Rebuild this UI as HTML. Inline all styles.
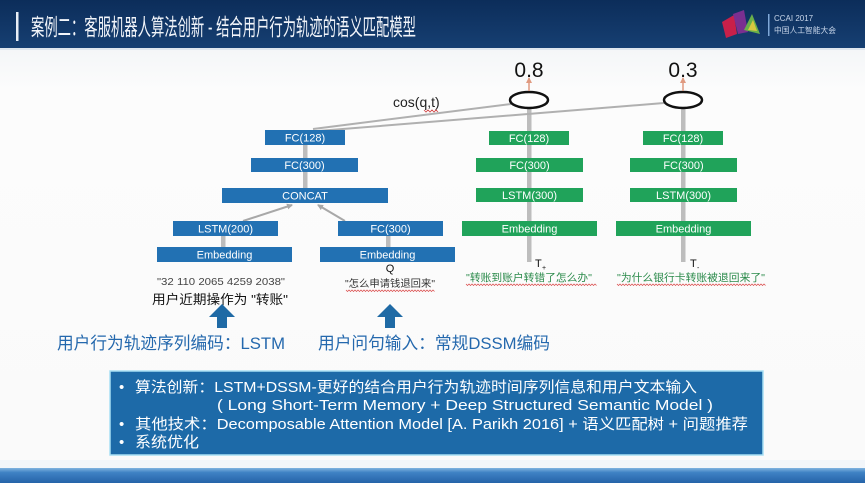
<!DOCTYPE html>
<html>
<head>
<meta charset="utf-8">
<style>
html,body{margin:0;padding:0;width:865px;height:483px;overflow:hidden;background:#fafafa;}
svg{display:block;}
text{font-family:"Liberation Sans","Noto Sans CJK SC",sans-serif;}
</style>
</head>
<body>
<svg width="865" height="483" viewBox="0 0 865 483" xmlns="http://www.w3.org/2000/svg">
  <defs>
    <linearGradient id="hdr" x1="0" y1="0" x2="0" y2="1">
      <stop offset="0" stop-color="#0c2d5a"/>
      <stop offset="1" stop-color="#163f72"/>
    </linearGradient>
    <linearGradient id="ftr" x1="0" y1="0" x2="0" y2="1">
      <stop offset="0" stop-color="#7fb3e0"/>
      <stop offset="0.3" stop-color="#3f82c4"/>
      <stop offset="1" stop-color="#2563a8"/>
    </linearGradient>
    <linearGradient id="bg" x1="0" y1="0" x2="0" y2="1">
      <stop offset="0" stop-color="#f4f6f8"/>
      <stop offset="0.1" stop-color="#fcfcfc"/>
      <stop offset="1" stop-color="#fafafa"/>
    </linearGradient>
    <marker id="ah" markerWidth="6" markerHeight="6" refX="5" refY="3" orient="auto" markerUnits="userSpaceOnUse">
      <path d="M0,0 L6,3 L0,6 z" fill="#a8a8a8"/>
    </marker>
    <marker id="oh" markerWidth="6" markerHeight="6" refX="5" refY="3" orient="auto" markerUnits="userSpaceOnUse">
      <path d="M0,0 L6,3 L0,6 z" fill="#e09a80"/>
    </marker>
  </defs>

  <!-- background -->
  <rect x="0" y="48" width="865" height="422" fill="url(#bg)"/>

  <!-- header -->
  <rect x="0" y="0" width="865" height="48" fill="url(#hdr)"/>
  <rect x="0" y="48" width="865" height="2" fill="#dfe6ee"/>
  <rect x="16" y="12" width="2.5" height="29" fill="#e8eef6"/>
  <text x="31" y="35" font-size="23" fill="#f2f5fa" textLength="385" lengthAdjust="spacingAndGlyphs">案例二：客服机器人算法创新 - 结合用户行为轨迹的语义匹配模型</text>

  <!-- logo -->
  <polygon points="722,22 734,15 737,34 726,38" fill="#c8204a"/>
  <polygon points="733,14 744,10 748,32 738,34" fill="#7a2f90"/>
  <polygon points="744,30 752,14 760,34" fill="#6ab04a"/>
  <polygon points="748,30 753,20 757,31" fill="#d8c840"/>
  <rect x="768" y="14" width="1.5" height="22" fill="#7fa8d8"/>
  <text x="774" y="21" font-size="8" fill="#c8d6ea">CCAI 2017</text>
  <text x="774" y="33" font-size="8" fill="#c8d6ea" textLength="62" lengthAdjust="spacingAndGlyphs">中国人工智能大会</text>

  <!-- gray vertical connectors -->
  <rect x="527" y="108" width="4.5" height="154" fill="#bdbdbd"/>
  <rect x="681" y="108" width="4.5" height="154" fill="#bdbdbd"/>
  <rect x="303" y="145" width="4.5" height="43" fill="#bdbdbd"/>
  <rect x="221" y="236" width="4.5" height="11" fill="#bdbdbd"/>
  <rect x="386" y="236" width="4.5" height="11" fill="#bdbdbd"/>

  <!-- lines from FC(128) to ellipses -->
  <line x1="313" y1="129" x2="511" y2="104" stroke="#b0b0b0" stroke-width="2"/>
  <line x1="318" y1="131" x2="664" y2="103" stroke="#b0b0b0" stroke-width="2"/>

  <!-- diagonals into CONCAT -->
  <line x1="243" y1="221" x2="292" y2="205" stroke="#a8a8a8" stroke-width="2" marker-end="url(#ah)"/>
  <line x1="345" y1="221" x2="318" y2="205" stroke="#a8a8a8" stroke-width="2" marker-end="url(#ah)"/>

  <!-- left (blue) tower -->
  <g fill="#2271b3">
    <rect x="265" y="130" width="80" height="15"/>
    <rect x="251" y="158" width="107" height="14"/>
    <rect x="222" y="188" width="166" height="15"/>
    <rect x="173" y="221" width="105" height="15"/>
    <rect x="157" y="247" width="135" height="15"/>
    <rect x="338" y="221" width="105" height="15"/>
    <rect x="320" y="247" width="135" height="15"/>
  </g>
  <g fill="#ffffff" font-size="11" text-anchor="middle">
    <text x="305" y="141.5">FC(128)</text>
    <text x="304.5" y="169">FC(300)</text>
    <text x="305" y="199.5">CONCAT</text>
    <text x="225.5" y="232.5">LSTM(200)</text>
    <text x="224.5" y="258.5">Embedding</text>
    <text x="390.5" y="232.5">FC(300)</text>
    <text x="387.5" y="258.5">Embedding</text>
  </g>

  <!-- green towers -->
  <g fill="#20a35a">
    <rect x="489" y="131" width="80" height="14"/>
    <rect x="476" y="158" width="107" height="14"/>
    <rect x="476" y="188" width="107" height="14"/>
    <rect x="462" y="221" width="135" height="15"/>
    <rect x="643" y="131" width="80" height="14"/>
    <rect x="630" y="158" width="107" height="14"/>
    <rect x="630" y="188" width="107" height="14"/>
    <rect x="616" y="221" width="135" height="15"/>
  </g>
  <g fill="#ffffff" font-size="11" text-anchor="middle">
    <text x="529" y="142">FC(128)</text>
    <text x="529.5" y="169">FC(300)</text>
    <text x="529.5" y="199">LSTM(300)</text>
    <text x="529.5" y="232.5">Embedding</text>
    <text x="683" y="142">FC(128)</text>
    <text x="683.5" y="169">FC(300)</text>
    <text x="683.5" y="199">LSTM(300)</text>
    <text x="683.5" y="232.5">Embedding</text>
  </g>

  <!-- ellipses -->
  <ellipse cx="529" cy="100" rx="19" ry="8" fill="#ffffff" stroke="#111" stroke-width="2.5"/>
  <ellipse cx="683" cy="100" rx="19" ry="8" fill="#ffffff" stroke="#111" stroke-width="2.5"/>
  <line x1="529" y1="91" x2="529" y2="78" stroke="#e09a80" stroke-width="1.5" marker-end="url(#oh)"/>
  <line x1="683" y1="91" x2="683" y2="78" stroke="#e09a80" stroke-width="1.5" marker-end="url(#oh)"/>
  <text x="529" y="77" font-size="21" text-anchor="middle" fill="#111">0.8</text>
  <text x="683" y="77" font-size="21" text-anchor="middle" fill="#111">0.3</text>

  <!-- cos(q,t) -->
  <text x="393" y="107" font-size="14" fill="#222">cos(q,t)</text>
  <path d="M424,110 l2,2 l2,-2 l2,2 l2,-2 l2,2 l2,-2 l2,2" fill="none" stroke="#d04040" stroke-width="0.8"/>

  <!-- labels under towers -->
  <text x="390" y="272" font-size="11" text-anchor="middle" fill="#111">Q</text>
  <text x="535" y="267" font-size="11" fill="#111">T</text>
  <text x="542" y="270" font-size="7" fill="#111">+</text>
  <text x="690" y="267" font-size="11" fill="#111">T</text>
  <text x="697" y="270" font-size="7" fill="#111">-</text>

  <text x="221" y="285" font-size="10.5" text-anchor="middle" fill="#444" textLength="128" lengthAdjust="spacingAndGlyphs">"32 110 2065 4259 2038"</text>
  <text x="220" y="304" font-size="13" text-anchor="middle" fill="#111" textLength="136" lengthAdjust="spacingAndGlyphs">用户近期操作为 "转账"</text>

  <text x="390" y="287" font-size="10" text-anchor="middle" fill="#333" textLength="90" lengthAdjust="spacingAndGlyphs">"怎么申请钱退回来"</text>
  <path d="M346,290 l1.5,1.5 l1.5,-1.5 l1.5,1.5 l1.5,-1.5 l1.5,1.5 l1.5,-1.5 l1.5,1.5 l1.5,-1.5 l1.5,1.5 l1.5,-1.5 l1.5,1.5 l1.5,-1.5 l1.5,1.5 l1.5,-1.5 l1.5,1.5 l1.5,-1.5 l1.5,1.5 l1.5,-1.5 l1.5,1.5 l1.5,-1.5 l1.5,1.5 l1.5,-1.5 l1.5,1.5 l1.5,-1.5 l1.5,1.5 l1.5,-1.5 l1.5,1.5 l1.5,-1.5 l1.5,1.5 l1.5,-1.5 l1.5,1.5 l1.5,-1.5 l1.5,1.5 l1.5,-1.5 l1.5,1.5 l1.5,-1.5 l1.5,1.5 l1.5,-1.5 l1.5,1.5 l1.5,-1.5 l1.5,1.5 l1.5,-1.5 l1.5,1.5 l1.5,-1.5 l1.5,1.5 l1.5,-1.5 l1.5,1.5 l1.5,-1.5 l1.5,1.5 l1.5,-1.5 l1.5,1.5 l1.5,-1.5 l1.5,1.5 l1.5,-1.5 l1.5,1.5 l1.5,-1.5 l1.5,1.5 l1.5,-1.5 l1.5,1.5" fill="none" stroke="#d84040" stroke-width="0.7"/>

  <text x="529" y="281" font-size="10.5" text-anchor="middle" fill="#2a8a4a" textLength="126" lengthAdjust="spacingAndGlyphs">"转账到账户转错了怎么办"</text>
  <path d="M466,284 l1.5,1.5 l1.5,-1.5 l1.5,1.5 l1.5,-1.5 l1.5,1.5 l1.5,-1.5 l1.5,1.5 l1.5,-1.5 l1.5,1.5 l1.5,-1.5 l1.5,1.5 l1.5,-1.5 l1.5,1.5 l1.5,-1.5 l1.5,1.5 l1.5,-1.5 l1.5,1.5 l1.5,-1.5 l1.5,1.5 l1.5,-1.5 l1.5,1.5 l1.5,-1.5 l1.5,1.5 l1.5,-1.5 l1.5,1.5 l1.5,-1.5 l1.5,1.5 l1.5,-1.5 l1.5,1.5 l1.5,-1.5 l1.5,1.5 l1.5,-1.5 l1.5,1.5 l1.5,-1.5 l1.5,1.5 l1.5,-1.5 l1.5,1.5 l1.5,-1.5 l1.5,1.5 l1.5,-1.5 l1.5,1.5 l1.5,-1.5 l1.5,1.5 l1.5,-1.5 l1.5,1.5 l1.5,-1.5 l1.5,1.5 l1.5,-1.5 l1.5,1.5 l1.5,-1.5 l1.5,1.5 l1.5,-1.5 l1.5,1.5 l1.5,-1.5 l1.5,1.5 l1.5,-1.5 l1.5,1.5 l1.5,-1.5 l1.5,1.5 l1.5,-1.5 l1.5,1.5 l1.5,-1.5 l1.5,1.5 l1.5,-1.5 l1.5,1.5 l1.5,-1.5 l1.5,1.5 l1.5,-1.5 l1.5,1.5 l1.5,-1.5 l1.5,1.5 l1.5,-1.5 l1.5,1.5 l1.5,-1.5 l1.5,1.5 l1.5,-1.5 l1.5,1.5 l1.5,-1.5 l1.5,1.5 l1.5,-1.5 l1.5,1.5 l1.5,-1.5 l1.5,1.5 l1.5,-1.5 l1.5,1.5 l1.5,-1.5 l1.5,1.5" fill="none" stroke="#d84040" stroke-width="0.7"/>

  <text x="691" y="281" font-size="10.5" text-anchor="middle" fill="#2a8a4a" textLength="148" lengthAdjust="spacingAndGlyphs">"为什么银行卡转账被退回来了"</text>
  <path d="M617,284 l1.5,1.5 l1.5,-1.5 l1.5,1.5 l1.5,-1.5 l1.5,1.5 l1.5,-1.5 l1.5,1.5 l1.5,-1.5 l1.5,1.5 l1.5,-1.5 l1.5,1.5 l1.5,-1.5 l1.5,1.5 l1.5,-1.5 l1.5,1.5 l1.5,-1.5 l1.5,1.5 l1.5,-1.5 l1.5,1.5 l1.5,-1.5 l1.5,1.5 l1.5,-1.5 l1.5,1.5 l1.5,-1.5 l1.5,1.5 l1.5,-1.5 l1.5,1.5 l1.5,-1.5 l1.5,1.5 l1.5,-1.5 l1.5,1.5 l1.5,-1.5 l1.5,1.5 l1.5,-1.5 l1.5,1.5 l1.5,-1.5 l1.5,1.5 l1.5,-1.5 l1.5,1.5 l1.5,-1.5 l1.5,1.5 l1.5,-1.5 l1.5,1.5 l1.5,-1.5 l1.5,1.5 l1.5,-1.5 l1.5,1.5 l1.5,-1.5 l1.5,1.5 l1.5,-1.5 l1.5,1.5 l1.5,-1.5 l1.5,1.5 l1.5,-1.5 l1.5,1.5 l1.5,-1.5 l1.5,1.5 l1.5,-1.5 l1.5,1.5 l1.5,-1.5 l1.5,1.5 l1.5,-1.5 l1.5,1.5 l1.5,-1.5 l1.5,1.5 l1.5,-1.5 l1.5,1.5 l1.5,-1.5 l1.5,1.5 l1.5,-1.5 l1.5,1.5 l1.5,-1.5 l1.5,1.5 l1.5,-1.5 l1.5,1.5 l1.5,-1.5 l1.5,1.5 l1.5,-1.5 l1.5,1.5 l1.5,-1.5 l1.5,1.5 l1.5,-1.5 l1.5,1.5 l1.5,-1.5 l1.5,1.5 l1.5,-1.5 l1.5,1.5 l1.5,-1.5 l1.5,1.5 l1.5,-1.5 l1.5,1.5 l1.5,-1.5 l1.5,1.5 l1.5,-1.5 l1.5,1.5 l1.5,-1.5 l1.5,1.5 l1.5,-1.5 l1.5,1.5" fill="none" stroke="#d84040" stroke-width="0.7"/>

  <!-- blue up arrows -->
  <g fill="#1f6aa5">
    <polygon points="209,317 222,304 235,317"/>
    <rect x="217" y="316" width="10" height="12"/>
    <polygon points="377,317 390,304 403,317"/>
    <rect x="385" y="316" width="10" height="12"/>
  </g>

  <!-- bottom labels -->
  <text x="57" y="349" font-size="17" fill="#2468ad" textLength="228" lengthAdjust="spacingAndGlyphs">用户行为轨迹序列编码：LSTM</text>
  <text x="318" y="349" font-size="17" fill="#2468ad" textLength="232" lengthAdjust="spacingAndGlyphs">用户问句输入：常规DSSM编码</text>

  <!-- bottom info box -->
  <rect x="110" y="371" width="653" height="84" fill="#1d6aa8" stroke="#a8e0f4" stroke-width="1.5"/>
  <g fill="#ffffff" font-size="15">
    <text x="119" y="392">•</text>
    <text x="135" y="392" textLength="562" lengthAdjust="spacingAndGlyphs">算法创新：LSTM+DSSM-更好的结合用户行为轨迹时间序列信息和用户文本输入</text>
    <text x="217" y="410" textLength="496" lengthAdjust="spacingAndGlyphs">( Long Short-Term Memory + Deep Structured Semantic Model )</text>
    <text x="119" y="429">•</text>
    <text x="135" y="429" textLength="613" lengthAdjust="spacingAndGlyphs">其他技术：Decomposable Attention Model [A. Parikh 2016] + 语义匹配树 + 问题推荐</text>
    <text x="119" y="447">•</text>
    <text x="135" y="447" textLength="64" lengthAdjust="spacingAndGlyphs">系统优化</text>
  </g>

  <!-- footer -->
  <rect x="0" y="460" width="865" height="8" fill="#f2f6fa"/>
  <rect x="0" y="468" width="865" height="15" fill="url(#ftr)"/>
</svg>
</body>
</html>
